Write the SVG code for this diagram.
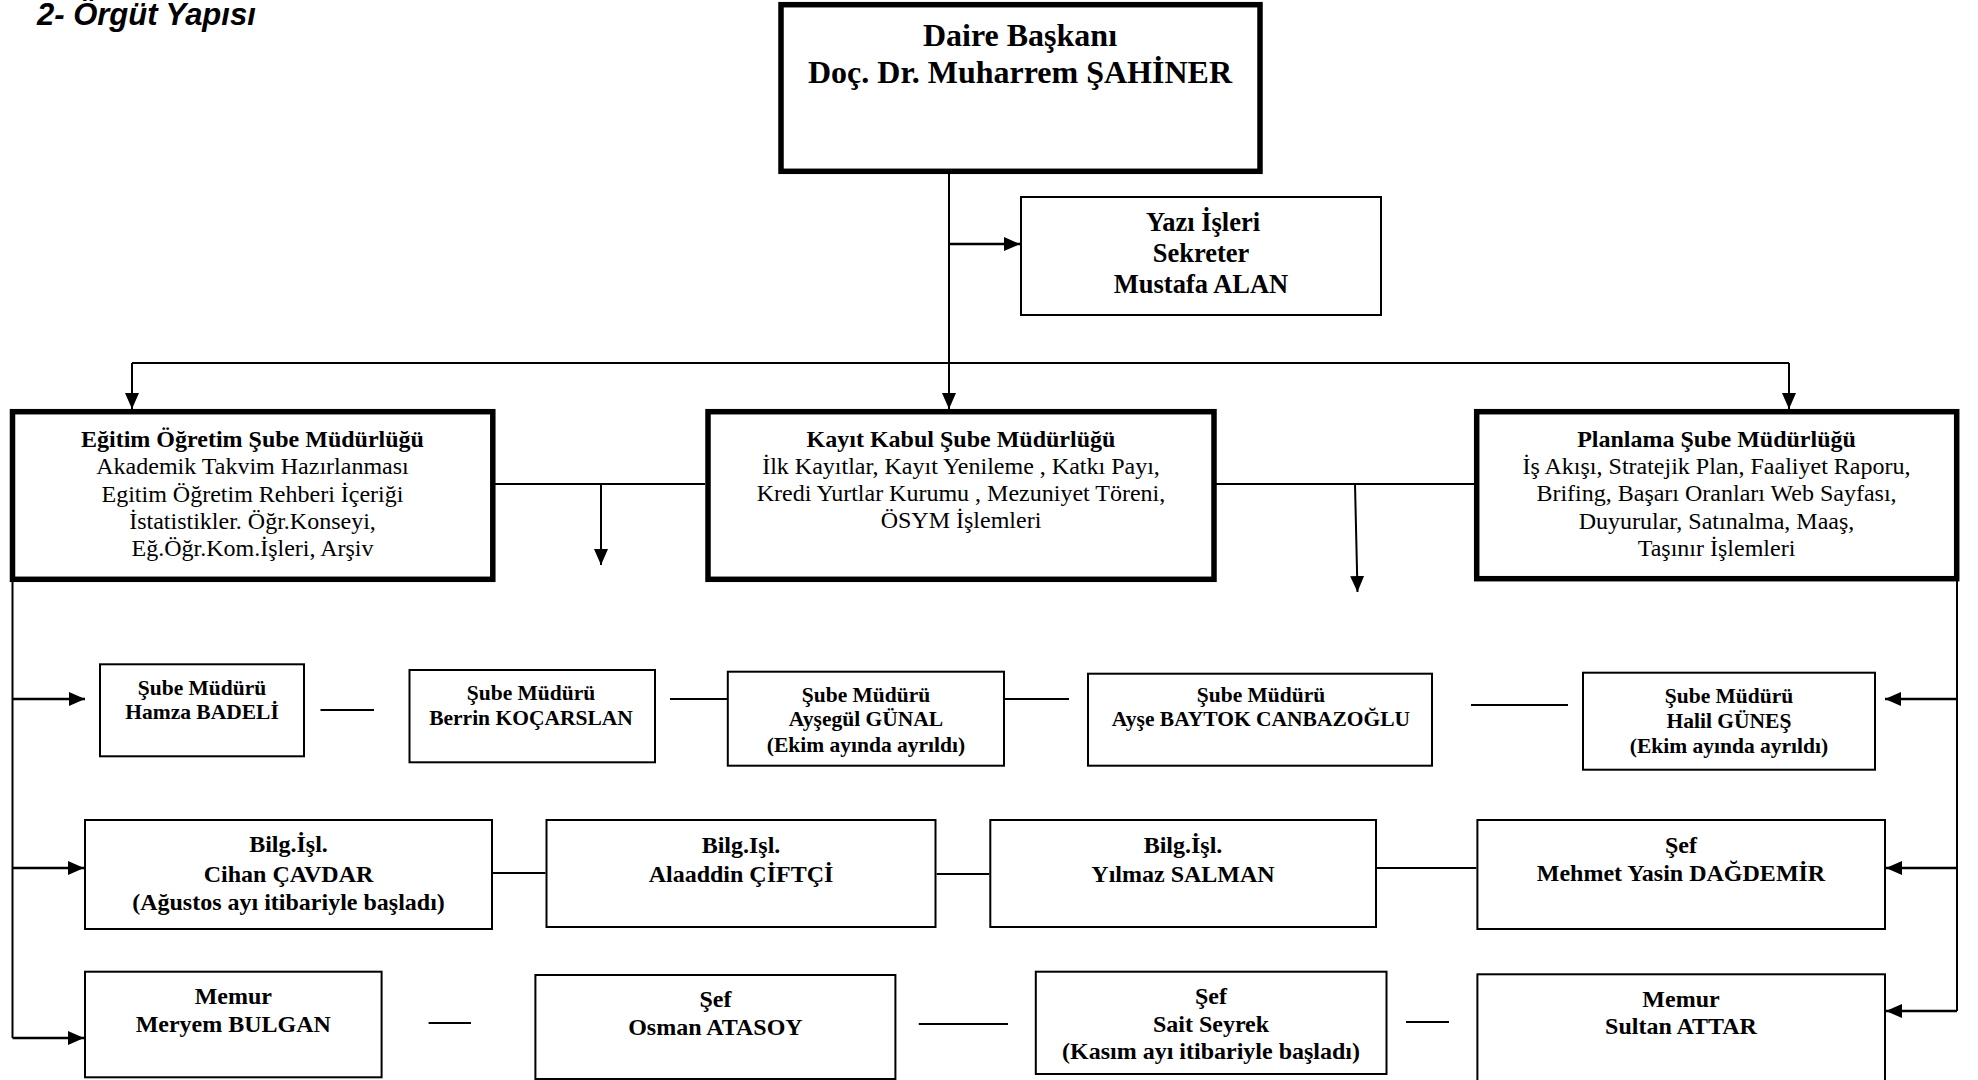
<svg xmlns="http://www.w3.org/2000/svg" width="1978" height="1080" viewBox="0 0 1978 1080">
<style>
  .bg{fill:#fff}
  .thick{fill:#fff;stroke:#000;stroke-width:5.5}
  .thin{fill:#fff;stroke:#000;stroke-width:2}
  .ln{fill:none;stroke:#000;stroke-width:2}
  .ar{fill:none;stroke:#000;stroke-width:2.5}
  text{font-family:"Liberation Serif","Times New Roman",serif;fill:#000;text-anchor:middle}
  .b{font-weight:bold}
  .f32{font-size:32px}
  .f26{font-size:26.5px}
  .f24{font-size:24px}
  .f21{font-size:21.5px}
  .title{font-family:"Liberation Sans",Arial,sans-serif;font-weight:bold;font-style:italic;font-size:31px;text-anchor:start}
</style>
<defs>
  <marker id="ah" markerUnits="userSpaceOnUse" markerWidth="18" markerHeight="14" refX="16" refY="7" orient="auto">
    <path d="M0,0 L16,7 L0,14 Z" fill="#000"/>
  </marker>
</defs>
<rect class="bg" x="0" y="0" width="1978" height="1080"/>
<text class="title" x="37" y="25">2- Örgüt Yapısı</text>

<g id="connectors">
  <line class="ln" x1="949" y1="174" x2="949" y2="409" marker-end="url(#ah)"/>
  <line class="ar" x1="949" y1="244" x2="1020" y2="244" marker-end="url(#ah)"/>
  <line class="ln" x1="132" y1="363" x2="1789" y2="363"/>
  <line class="ln" x1="132" y1="363" x2="132" y2="409" marker-end="url(#ah)"/>
  <line class="ln" x1="1789" y1="363" x2="1789" y2="409" marker-end="url(#ah)"/>
  <line class="ln" x1="495" y1="484" x2="705" y2="484"/>
  <line class="ln" x1="601" y1="484" x2="601" y2="565" marker-end="url(#ah)"/>
  <line class="ln" x1="1216" y1="484" x2="1474" y2="484"/>
  <line class="ln" x1="1355" y1="484" x2="1357.5" y2="592" marker-end="url(#ah)"/>
  <line class="ln" x1="12.5" y1="582" x2="12.5" y2="1038"/>
  <line class="ar" x1="12.5" y1="699" x2="85" y2="699" marker-end="url(#ah)"/>
  <line class="ar" x1="12.5" y1="868" x2="84" y2="868" marker-end="url(#ah)"/>
  <line class="ar" x1="12.5" y1="1038" x2="84" y2="1038" marker-end="url(#ah)"/>
  <line class="ln" x1="1957" y1="581" x2="1957" y2="1011"/>
  <line class="ar" x1="1957" y1="699" x2="1885" y2="699" marker-end="url(#ah)"/>
  <line class="ar" x1="1957" y1="868" x2="1886" y2="868" marker-end="url(#ah)"/>
  <line class="ar" x1="1957" y1="1011" x2="1886" y2="1011" marker-end="url(#ah)"/>
  <line class="ln" x1="320.5" y1="710" x2="374" y2="710"/>
  <line class="ln" x1="670" y1="699" x2="727" y2="699"/>
  <line class="ln" x1="1005" y1="699" x2="1069" y2="699"/>
  <line class="ln" x1="1471" y1="705" x2="1568" y2="705"/>
  <line class="ln" x1="493" y1="873" x2="545.5" y2="873"/>
  <line class="ln" x1="936.6" y1="874" x2="989.3" y2="874"/>
  <line class="ln" x1="1377" y1="868" x2="1476.4" y2="868"/>
  <line class="ln" x1="428.6" y1="1023" x2="471" y2="1023"/>
  <line class="ln" x1="918.75" y1="1024" x2="1008" y2="1024"/>
  <line class="ln" x1="1406" y1="1022" x2="1449" y2="1022"/>
</g>

<g id="daire-baskani">
  <rect class="thick" x="781" y="4.7" width="479" height="166.6"/>
  <text class="b f32" x="1020" y="46">Daire Başkanı</text>
  <text class="b f32" x="1020" y="83">Doç. Dr. Muharrem ŞAHİNER</text>
</g>

<g id="yazi-isleri">
  <rect class="thin" x="1021" y="197" width="360" height="118"/>
  <text class="b f26" x="1203" y="231">Yazı İşleri</text>
  <text class="b f26" x="1201" y="262">Sekreter</text>
  <text class="b f26" x="1201" y="293">Mustafa ALAN</text>
</g>

<g id="egitim-ogretim">
  <rect class="thick" x="12.5" y="411.7" width="480.3" height="167.6"/>
  <text class="b f24" x="252.5" y="446.5">Eğitim Öğretim Şube Müdürlüğü</text>
  <text class="f24" x="252.5" y="474">Akademik Takvim Hazırlanması</text>
  <text class="f24" x="252.5" y="501.5">Egitim Öğretim Rehberi İçeriği</text>
  <text class="f24" x="252.5" y="528.5">İstatistikler.  Öğr.Konseyi,</text>
  <text class="f24" x="252.5" y="556">Eğ.Öğr.Kom.İşleri, Arşiv</text>
</g>

<g id="kayit-kabul">
  <rect class="thick" x="708" y="411.7" width="506" height="167.6"/>
  <text class="b f24" x="961" y="446.5">Kayıt Kabul Şube Müdürlüğü</text>
  <text class="f24" x="961" y="473.5">İlk Kayıtlar, Kayıt Yenileme , Katkı Payı,</text>
  <text class="f24" x="961" y="501">Kredi Yurtlar Kurumu , Mezuniyet Töreni,</text>
  <text class="f24" x="961" y="528">ÖSYM İşlemleri</text>
</g>

<g id="planlama">
  <rect class="thick" x="1476.7" y="411.7" width="480" height="167"/>
  <text class="b f24" x="1716.5" y="446.5">Planlama Şube Müdürlüğü</text>
  <text class="f24" x="1716.5" y="473.5">İş Akışı, Stratejik Plan, Faaliyet Raporu,</text>
  <text class="f24" x="1716.5" y="501">Brifing,  Başarı Oranları Web Sayfası,</text>
  <text class="f24" x="1716.5" y="528.5">Duyurular,  Satınalma, Maaş,</text>
  <text class="f24" x="1716.5" y="556">Taşınır İşlemleri</text>
</g>

<g id="hamza-badeli">
  <rect class="thin" x="100" y="664.3" width="204" height="92"/>
  <text class="b f21" x="202" y="695">Şube Müdürü</text>
  <text class="b f21" x="202" y="718.5">Hamza BADELİ</text>
</g>

<g id="berrin-kocarslan">
  <rect class="thin" x="409.5" y="670" width="245.5" height="92.3"/>
  <text class="b f21" x="531" y="700">Şube Müdürü</text>
  <text class="b f21" x="531" y="725">Berrin KOÇARSLAN</text>
</g>

<g id="aysegul-gunal">
  <rect class="thin" x="727.8" y="671.7" width="276.2" height="94"/>
  <text class="b f21" x="866" y="701.7">Şube Müdürü</text>
  <text class="b f21" x="866" y="726">Ayşegül GÜNAL</text>
  <text class="b f21" x="866" y="751.7">(Ekim ayında ayrıldı)</text>
</g>

<g id="ayse-baytok">
  <rect class="thin" x="1088" y="673.7" width="344" height="92"/>
  <text class="b f21" x="1261" y="701.7">Şube Müdürü</text>
  <text class="b f21" x="1261" y="726">Ayşe BAYTOK CANBAZOĞLU</text>
</g>

<g id="halil-gunes">
  <rect class="thin" x="1583" y="672.7" width="292" height="97"/>
  <text class="b f21" x="1729" y="702.5">Şube Müdürü</text>
  <text class="b f21" x="1729" y="727.5">Halil GÜNEŞ</text>
  <text class="b f21" x="1729" y="752.5">(Ekim ayında ayrıldı)</text>
</g>

<g id="cihan-cavdar">
  <rect class="thin" x="85" y="820" width="407" height="109"/>
  <text class="b f24" x="288.5" y="851.7">Bilg.İşl.</text>
  <text class="b f24" x="288.5" y="881.7">Cihan ÇAVDAR</text>
  <text class="b f24" x="288.5" y="910">(Ağustos ayı itibariyle başladı)</text>
</g>

<g id="alaaddin-ciftci">
  <rect class="thin" x="546.5" y="820" width="389" height="107"/>
  <text class="b f24" x="741" y="853.3">Bilg.Işl.</text>
  <text class="b f24" x="741" y="881.7">Alaaddin ÇİFTÇİ</text>
</g>

<g id="yilmaz-salman">
  <rect class="thin" x="990.3" y="820" width="385.7" height="107"/>
  <text class="b f24" x="1183" y="853.3">Bilg.İşl.</text>
  <text class="b f24" x="1183" y="881.7">Yılmaz SALMAN</text>
</g>

<g id="mehmet-yasin">
  <rect class="thin" x="1477.4" y="820" width="407.6" height="109"/>
  <text class="b f24" x="1681" y="852.7">Şef</text>
  <text class="b f24" x="1681" y="881">Mehmet Yasin DAĞDEMİR</text>
</g>

<g id="meryem-bulgan">
  <rect class="thin" x="85" y="971.7" width="296.6" height="105.6"/>
  <text class="b f24" x="233.3" y="1004">Memur</text>
  <text class="b f24" x="233.3" y="1031.7">Meryem BULGAN</text>
</g>

<g id="osman-atasoy">
  <rect class="thin" x="535.4" y="975" width="360" height="104"/>
  <text class="b f24" x="715.4" y="1006.7">Şef</text>
  <text class="b f24" x="715.4" y="1035">Osman ATASOY</text>
</g>

<g id="sait-seyrek">
  <rect class="thin" x="1035.8" y="971.7" width="350.7" height="102.3"/>
  <text class="b f24" x="1211" y="1004">Şef</text>
  <text class="b f24" x="1211" y="1031.7">Sait Seyrek</text>
  <text class="b f24" x="1211" y="1059.3">(Kasım ayı itibariyle başladı)</text>
</g>

<g id="sultan-attar">
  <rect class="thin" x="1477.4" y="974.3" width="407.6" height="110"/>
  <text class="b f24" x="1681" y="1007">Memur</text>
  <text class="b f24" x="1681" y="1034">Sultan ATTAR</text>
</g>
</svg>
